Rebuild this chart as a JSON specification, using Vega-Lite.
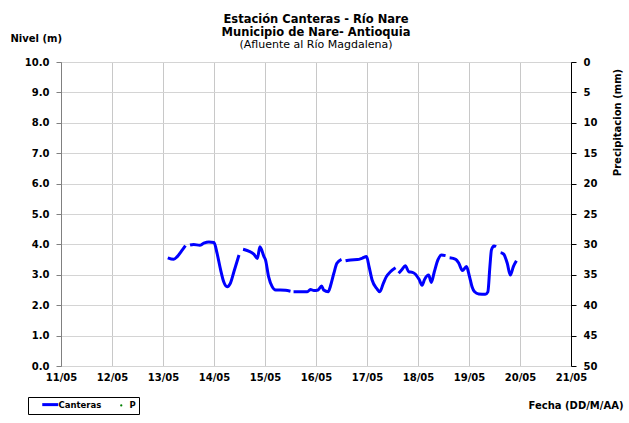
{
  "$schema": "https://vega.github.io/schema/vega-lite/v6.json",
  "width": 510,
  "height": 304,
  "autosize": {"type": "none"},
  "padding": {"left": 61, "top": 62, "right": 58, "bottom": 57},
  "background": "white",
  "config": {
    "font": "DejaVu Sans",
    "view": {"stroke": "#808080", "strokeWidth": 1}
  },
  "title": {
    "text": ["Estación Canteras - Río Nare", "Municipio de Nare- Antioquia"],
    "subtitle": "(Afluente al Río Magdalena)",
    "fontSize": 11.5,
    "fontWeight": "bold",
    "color": "black",
    "lineHeight": 12.5,
    "subtitleFontSize": 11,
    "subtitleFontWeight": "normal",
    "subtitleColor": "black",
    "subtitleLineHeight": 11,
    "subtitlePadding": 1,
    "offset": -17,
    "anchor": "middle",
    "frame": "group"
  },
  "layer": [
    {
      "data": {
        "values": [
          {"fecha": "2011-05-13T02:15", "nivel": 3.56},
          {"fecha": "2011-05-13T05:02", "nivel": 3.51},
          {"fecha": "2011-05-13T06:43", "nivel": 3.60},
          {"fecha": "2011-05-13T09:07", "nivel": 3.82},
          {"fecha": "2011-05-13T10:34", "nivel": 3.96},
          {"fecha": "2011-05-13T11:31", "nivel": null},
          {"fecha": "2011-05-13T12:43", "nivel": 3.98},
          {"fecha": "2011-05-13T14:24", "nivel": 4.00},
          {"fecha": "2011-05-13T17:17", "nivel": 3.97},
          {"fecha": "2011-05-13T19:12", "nivel": 4.04},
          {"fecha": "2011-05-13T21:36", "nivel": 4.08},
          {"fecha": "2011-05-14T00:00", "nivel": 4.06},
          {"fecha": "2011-05-14T01:26", "nivel": 3.71},
          {"fecha": "2011-05-14T03:07", "nivel": 3.16},
          {"fecha": "2011-05-14T04:34", "nivel": 2.77},
          {"fecha": "2011-05-14T06:14", "nivel": 2.61},
          {"fecha": "2011-05-14T07:41", "nivel": 2.72},
          {"fecha": "2011-05-14T09:22", "nivel": 3.10},
          {"fecha": "2011-05-14T11:46", "nivel": 3.65},
          {"fecha": "2011-05-14T12:43", "nivel": null},
          {"fecha": "2011-05-14T13:41", "nivel": 3.84},
          {"fecha": "2011-05-14T16:19", "nivel": 3.78},
          {"fecha": "2011-05-14T18:43", "nivel": 3.68},
          {"fecha": "2011-05-14T20:24", "nivel": 3.54},
          {"fecha": "2011-05-14T21:36", "nivel": 3.92},
          {"fecha": "2011-05-14T23:31", "nivel": 3.60},
          {"fecha": "2011-05-15T00:14", "nivel": 3.49},
          {"fecha": "2011-05-15T01:41", "nivel": 2.94},
          {"fecha": "2011-05-15T03:22", "nivel": 2.61},
          {"fecha": "2011-05-15T05:02", "nivel": 2.50},
          {"fecha": "2011-05-15T07:12", "nivel": 2.50},
          {"fecha": "2011-05-15T09:36", "nivel": 2.49},
          {"fecha": "2011-05-15T12:00", "nivel": 2.46},
          {"fecha": "2011-05-15T12:43", "nivel": null},
          {"fecha": "2011-05-15T13:26", "nivel": 2.44},
          {"fecha": "2011-05-15T16:48", "nivel": 2.44},
          {"fecha": "2011-05-15T19:55", "nivel": 2.44},
          {"fecha": "2011-05-15T21:22", "nivel": 2.52},
          {"fecha": "2011-05-15T23:02", "nivel": 2.48},
          {"fecha": "2011-05-16T00:58", "nivel": 2.50},
          {"fecha": "2011-05-16T02:38", "nivel": 2.63},
          {"fecha": "2011-05-16T03:36", "nivel": 2.50},
          {"fecha": "2011-05-16T05:46", "nivel": 2.44},
          {"fecha": "2011-05-16T06:43", "nivel": 2.61},
          {"fecha": "2011-05-16T08:24", "nivel": 3.05},
          {"fecha": "2011-05-16T09:50", "nivel": 3.38},
          {"fecha": "2011-05-16T12:00", "nivel": 3.51},
          {"fecha": "2011-05-16T12:58", "nivel": null},
          {"fecha": "2011-05-16T13:55", "nivel": 3.46},
          {"fecha": "2011-05-16T16:19", "nivel": 3.49},
          {"fecha": "2011-05-16T19:26", "nivel": 3.50},
          {"fecha": "2011-05-16T21:50", "nivel": 3.55},
          {"fecha": "2011-05-16T23:46", "nivel": 3.60},
          {"fecha": "2011-05-17T00:58", "nivel": 3.27},
          {"fecha": "2011-05-17T02:24", "nivel": 2.83},
          {"fecha": "2011-05-17T04:34", "nivel": 2.55},
          {"fecha": "2011-05-17T06:00", "nivel": 2.44},
          {"fecha": "2011-05-17T07:41", "nivel": 2.72},
          {"fecha": "2011-05-17T09:07", "nivel": 2.94},
          {"fecha": "2011-05-17T11:02", "nivel": 3.10},
          {"fecha": "2011-05-17T13:26", "nivel": 3.23},
          {"fecha": "2011-05-17T14:10", "nivel": null},
          {"fecha": "2011-05-17T14:53", "nivel": 3.05},
          {"fecha": "2011-05-17T16:34", "nivel": 3.18},
          {"fecha": "2011-05-17T18:00", "nivel": 3.30},
          {"fecha": "2011-05-17T19:41", "nivel": 3.10},
          {"fecha": "2011-05-17T21:22", "nivel": 3.08},
          {"fecha": "2011-05-17T22:48", "nivel": 3.02},
          {"fecha": "2011-05-18T00:29", "nivel": 2.85},
          {"fecha": "2011-05-18T01:55", "nivel": 2.66},
          {"fecha": "2011-05-18T03:07", "nivel": 2.85},
          {"fecha": "2011-05-18T05:02", "nivel": 2.99},
          {"fecha": "2011-05-18T06:14", "nivel": 2.75},
          {"fecha": "2011-05-18T07:41", "nivel": 3.10},
          {"fecha": "2011-05-18T09:22", "nivel": 3.49},
          {"fecha": "2011-05-18T11:02", "nivel": 3.65},
          {"fecha": "2011-05-18T12:58", "nivel": 3.63},
          {"fecha": "2011-05-18T13:55", "nivel": null},
          {"fecha": "2011-05-18T14:53", "nivel": 3.56},
          {"fecha": "2011-05-18T17:46", "nivel": 3.51},
          {"fecha": "2011-05-18T19:12", "nivel": 3.38},
          {"fecha": "2011-05-18T20:53", "nivel": 3.14},
          {"fecha": "2011-05-18T22:48", "nivel": 3.27},
          {"fecha": "2011-05-19T00:14", "nivel": 2.94},
          {"fecha": "2011-05-19T01:26", "nivel": 2.61},
          {"fecha": "2011-05-19T02:38", "nivel": 2.44},
          {"fecha": "2011-05-19T04:34", "nivel": 2.37},
          {"fecha": "2011-05-19T07:41", "nivel": 2.36},
          {"fecha": "2011-05-19T08:53", "nivel": 2.44},
          {"fecha": "2011-05-19T09:50", "nivel": 3.27},
          {"fecha": "2011-05-19T10:34", "nivel": 3.82},
          {"fecha": "2011-05-19T11:46", "nivel": 3.95},
          {"fecha": "2011-05-19T12:43", "nivel": 3.92},
          {"fecha": "2011-05-19T13:55", "nivel": null},
          {"fecha": "2011-05-19T14:53", "nivel": 3.73},
          {"fecha": "2011-05-19T16:19", "nivel": 3.68},
          {"fecha": "2011-05-19T18:00", "nivel": 3.38},
          {"fecha": "2011-05-19T19:26", "nivel": 2.99},
          {"fecha": "2011-05-19T20:53", "nivel": 3.27},
          {"fecha": "2011-05-19T22:19", "nivel": 3.46}
        ]
      },
      "mark": {
        "type": "line",
        "strokeWidth": 3,
        "interpolate": "monotone",
        "invalid": "break-paths-show-domains"
      },
      "encoding": {
        "x": {
          "field": "fecha",
          "type": "temporal",
          "scale": {
            "domain": [
              {"year": 2011, "month": 5, "date": 11},
              {"year": 2011, "month": 5, "date": 21}
            ]
          },
          "axis": {
            "format": "%d/%m",
            "tickCount": {"interval": "day", "step": 1},
            "grid": true,
            "gridColor": "#c8c8c8",
            "gridWidth": 1,
            "domain": false,
            "ticks": false,
            "labelFontSize": 10,
            "labelFontWeight": "bold",
            "labelColor": "black",
            "labelPadding": 6,
            "labelFlush": false,
            "labelOverlap": false,
            "title": "Fecha (DD/M/AA)",
            "titleFontSize": 10,
            "titleFontWeight": "bold",
            "titleColor": "black",
            "titleAnchor": null,
            "titleAlign": "right",
            "titleBaseline": "middle",
            "titleX": 562,
            "titleY": 39
          }
        },
        "y": {
          "field": "nivel",
          "type": "quantitative",
          "scale": {"domain": [0, 10]},
          "axis": {
            "values": [0, 1, 2, 3, 4, 5, 6, 7, 8, 9, 10],
            "format": ".1f",
            "grid": true,
            "gridColor": "#d4d4d4",
            "domainColor": "#808080",
            "tickColor": "#808080",
            "tickSize": 5,
            "labelFontSize": 10,
            "labelFontWeight": "bold",
            "labelColor": "black",
            "labelPadding": 7,
            "title": "Nivel (m)",
            "titleFontSize": 10,
            "titleFontWeight": "bold",
            "titleColor": "black",
            "titleAngle": 0,
            "titleAnchor": null,
            "titleAlign": "left",
            "titleBaseline": "middle",
            "titleX": -51,
            "titleY": -24
          }
        },
        "color": {
          "datum": "Canteras",
          "type": "nominal",
          "scale": {"domain": ["Canteras", "P"], "range": ["#0000FF", "#008000"]},
          "legend": {
            "orient": "none",
            "legendX": -33,
            "legendY": 335,
            "direction": "horizontal",
            "title": null,
            "strokeColor": "black",
            "fillColor": "white",
            "padding": 3,
            "labelFontSize": 8.5,
            "labelFontWeight": "bold",
            "labelColor": "black",
            "symbolOffset": 15,
            "columnPadding": -8,
            "labelExpr": "datum.value === 'P' ? 'P                   ' : datum.value",
            "encode": {
              "symbols": {
                "update": {
                  "shape": {"signal": "datum.value === 'P' ? 'circle' : 'stroke'"},
                  "size": {"signal": "datum.value === 'P' ? 5 : 256"},
                  "strokeWidth": {"signal": "datum.value === 'P' ? 0 : 3"},
                  "fill": {"signal": "datum.value === 'P' ? '#008000' : 'transparent'"},
                  "stroke": {"signal": "datum.value === 'P' ? '#008000' : '#0000FF'"}
                }
              }
            }
          }
        }
      }
    },
    {
      "data": {
        "values": [
          {"fecha": "2011-05-13T00:00", "P": null},
          {"fecha": "2011-05-20T00:00", "P": null}
        ]
      },
      "mark": {"type": "point", "filled": true, "size": 6},
      "encoding": {
        "x": {"field": "fecha", "type": "temporal"},
        "y": {
          "field": "P",
          "type": "quantitative",
          "scale": {"domain": [0, 50], "reverse": true},
          "axis": {
            "orient": "right",
            "values": [0, 5, 10, 15, 20, 25, 30, 35, 40, 45, 50],
            "grid": false,
            "domainColor": "black",
            "tickColor": "black",
            "tickSize": 5,
            "labelFontSize": 10,
            "labelFontWeight": "bold",
            "labelColor": "black",
            "labelPadding": 7,
            "title": "Precipitacion (mm)",
            "titleFontSize": 10,
            "titleFontWeight": "bold",
            "titleColor": "black",
            "titleAngle": 270,
            "titleAnchor": null,
            "titleAlign": "center",
            "titleBaseline": "middle",
            "titleX": 46,
            "titleY": 60
          }
        },
        "color": {"datum": "P", "type": "nominal"}
      }
    }
  ],
  "resolve": {"scale": {"y": "independent"}}
}
